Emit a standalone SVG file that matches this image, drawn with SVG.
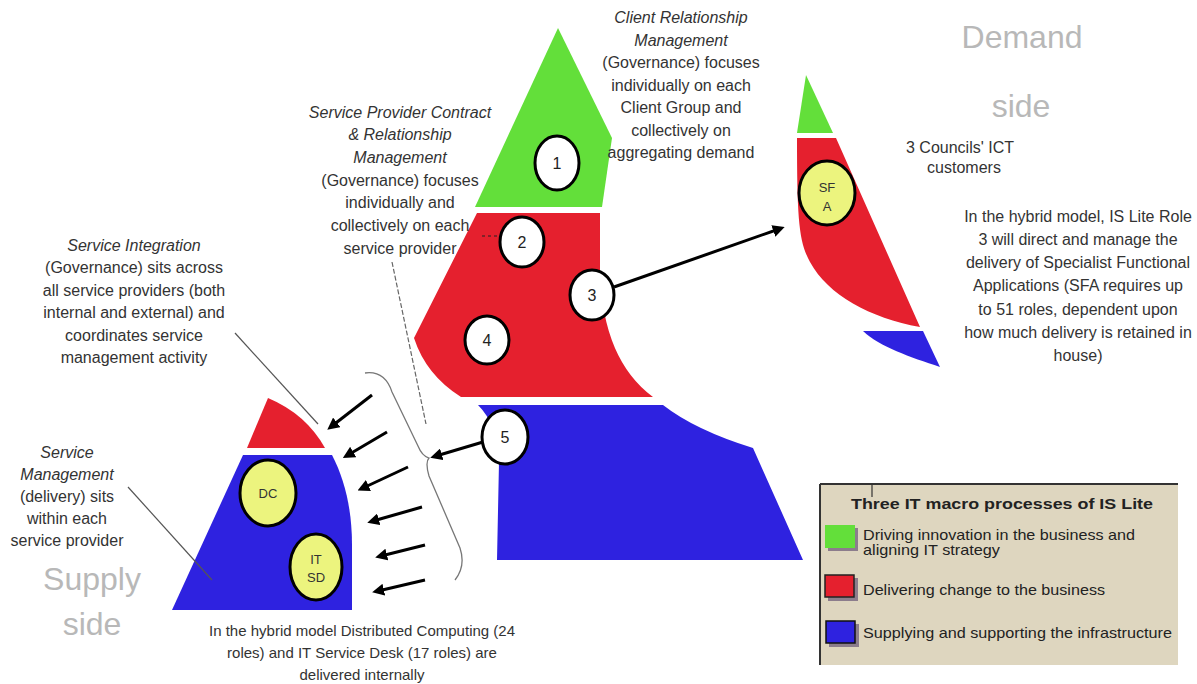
<svg xmlns="http://www.w3.org/2000/svg" width="1197" height="684" viewBox="0 0 1197 684">
<defs>
<marker id="ah" viewBox="0 0 10 10" refX="5" refY="5" markerWidth="4" markerHeight="4" orient="auto" markerUnits="strokeWidth">
<path d="M0,0 L10,5 L0,10 Z" fill="#000"/>
</marker>
</defs>
<style>
.g{fill:#63df3a}.r{fill:#e5202e}.b{fill:#2e22e0}
.num{fill:#fff;stroke:#000;stroke-width:3}
.yl{fill:#ecf47e;stroke:#000;stroke-width:3}
.t{font-family:"Liberation Sans",Arial,sans-serif;font-size:16px;fill:#333;text-anchor:middle}
.i{font-style:italic}
.big{font-family:"Liberation Sans",Arial,sans-serif;font-size:32px;fill:#b8b8b8;text-anchor:middle}
.n{font-family:"Liberation Sans",Arial,sans-serif;font-size:16px;fill:#222;text-anchor:middle}
.s{font-family:"Liberation Sans",Arial,sans-serif;font-size:13px;fill:#333;text-anchor:middle}
.arr{stroke:#000;stroke-width:3;fill:none;marker-end:url(#ah)}
.thin{stroke:#555;stroke-width:1.2;fill:none}
.lg{font-family:"Liberation Sans",Arial,sans-serif;font-size:15px;fill:#222}
</style>
<rect width="1197" height="684" fill="#fff"/>

<g id="main-shape">
<path class="g" d="M558,28 L612,138 L602,207 L475,207 Z"/>
<path class="r" d="M477,213 L600,213 L600,273 Q603,360 653,397 L461,397 Q426,375 414,338 Z"/>
<path class="b" d="M478,405 L663,405 Q695,430 753,448 L803,560 L497,560 L499,462 Q498,425 478,405 Z"/>
</g>

<g id="demand-shape">
<path class="g" d="M806,75 L833,133 L797,133 Z"/>
<path class="r" d="M797,138 L836,138 L920,327 C870,318 828,295 810,262 C799,242 797,220 797,138 Z"/>
<path class="b" d="M863,331 L923,331 L940,367 C910,357 880,347 863,331 Z"/>
</g>

<g id="supply-shape">
<path class="r" d="M247,448 L268,398 Q306,414 325,448 Z"/>
<path class="b" d="M243,455 L332,455 C345,480 352,510 352,545 L352,610 L172,610 Z"/>
</g>

<g id="node-1"><ellipse class="num" cx="557" cy="163" rx="22" ry="27"/><text class="n" x="557" y="169">1</text></g>
<g id="node-2"><ellipse class="num" cx="522" cy="242" rx="22" ry="25"/><text class="n" x="522" y="248">2</text></g>
<g id="node-3"><ellipse class="num" cx="592" cy="295" rx="22" ry="25"/><text class="n" x="592" y="301">3</text></g>
<g id="node-4"><ellipse class="num" cx="487" cy="340" rx="22" ry="24"/><text class="n" x="487" y="346">4</text></g>
<g id="node-5"><ellipse class="num" cx="505" cy="437" rx="23" ry="27"/><text class="n" x="505" y="443">5</text></g>
<g id="node-sfa"><ellipse class="yl" cx="827" cy="193" rx="28" ry="32"/><text class="s" x="827" y="192">SF</text><text class="s" x="827" y="211">A</text></g>
<g id="node-dc"><ellipse class="yl" cx="268" cy="493" rx="28" ry="33"/><text class="s" x="268" y="498">DC</text></g>
<g id="node-itsd"><ellipse class="yl" cx="316" cy="567" rx="26" ry="33"/><text class="s" x="316" y="564">IT</text><text class="s" x="316" y="582">SD</text></g>

<g id="connectors">
<line class="arr" x1="614" y1="287" x2="779" y2="229"/>
<line class="arr" x1="483" y1="442" x2="436" y2="456"/>
<line class="arr" x1="372" y1="395" x2="332" y2="426"/>
<line class="arr" x1="387" y1="432" x2="348" y2="455"/>
<line class="arr" x1="408" y1="467" x2="363" y2="488"/>
<line class="arr" x1="422" y1="507" x2="373" y2="521"/>
<line class="arr" x1="425" y1="545" x2="381" y2="556"/>
<line class="arr" x1="425" y1="580" x2="378" y2="591"/>
<path d="M365,373 C380,371 388,380 392,392 L418,446 Q422,456 429,458 Q425,462 429,476 L460,548 Q466,566 455,580" stroke="#777" stroke-width="1.3" fill="none"/>
<line x1="392" y1="262" x2="426" y2="424" stroke="#666" stroke-width="1.2" stroke-dasharray="5,2"/>
<line x1="482" y1="236" x2="499" y2="236" stroke="#222" stroke-width="1.2" stroke-dasharray="3,3"/>
<line class="thin" x1="235" y1="333" x2="318" y2="424"/>
<line class="thin" x1="128" y1="487" x2="212" y2="580"/>
</g>

<g id="label-client">
<text class="t i" x="681" y="23">Client Relationship</text>
<text class="t i" x="681" y="45.5">Management</text>
<text class="t" x="681" y="68">(Governance) focuses</text>
<text class="t" x="681" y="90.5">individually on each</text>
<text class="t" x="681" y="113">Client Group and</text>
<text class="t" x="681" y="135.5">collectively on</text>
<text class="t" x="681" y="158">aggregating demand</text>
</g>

<g id="label-provider">
<text class="t i" x="400" y="117.5">Service Provider Contract</text>
<text class="t i" x="400" y="140">&amp; Relationship</text>
<text class="t i" x="400" y="163">Management</text>
<text class="t" x="400" y="185.5">(Governance) focuses</text>
<text class="t" x="400" y="208">individually and</text>
<text class="t" x="400" y="231">collectively on each</text>
<text class="t" x="400" y="253.5">service provider</text>
</g>

<g id="label-integration">
<text class="t i" x="134" y="250.5">Service Integration</text>
<text class="t" x="134" y="273">(Governance) sits across</text>
<text class="t" x="134" y="295.5">all service providers (both</text>
<text class="t" x="134" y="318">internal and external) and</text>
<text class="t" x="134" y="340.5">coordinates service</text>
<text class="t" x="134" y="363">management activity</text>
</g>

<g id="label-management">
<text class="t i" x="67" y="457.5">Service</text>
<text class="t i" x="67" y="479.5">Management</text>
<text class="t" x="67" y="501.5">(delivery) sits</text>
<text class="t" x="67" y="523.5">within each</text>
<text class="t" x="67" y="545.5">service provider</text>
</g>

<g id="label-supply">
<text class="big" x="92" y="590">Supply</text>
<text class="big" x="92" y="635">side</text>
</g>

<g id="label-demand">
<text class="big" x="1022" y="48">Demand</text>
<text class="big" x="1021" y="117">side</text>
</g>

<g id="label-councils">
<text class="t" x="960" y="152.5">3 Councils' ICT</text>
<text class="t" x="964" y="172.5">customers</text>
</g>

<g id="label-sfa">
<text class="t" x="1078" y="221.5">In the hybrid model, IS Lite Role</text>
<text class="t" x="1078" y="244.8">3 will direct and manage the</text>
<text class="t" x="1078" y="268.1">delivery of Specialist Functional</text>
<text class="t" x="1078" y="291.4">Applications (SFA requires up</text>
<text class="t" x="1078" y="314.7">to 51 roles, dependent upon</text>
<text class="t" x="1078" y="338">how much delivery is retained in</text>
<text class="t" x="1078" y="361.3">house)</text>
</g>

<g id="label-bottom">
<text class="t" x="362" y="636" style="font-size:15px">In the hybrid model Distributed Computing (24</text>
<text class="t" x="362" y="658" style="font-size:15px">roles) and IT Service Desk (17 roles) are</text>
<text class="t" x="362" y="680" style="font-size:15px">delivered internally</text>
</g>

<g id="legend">
<rect x="820" y="484" width="358" height="181" fill="#ded6bf"/>
<line x1="820" y1="484" x2="1178" y2="484" stroke="#333" stroke-width="2"/>
<line x1="820" y1="484" x2="820" y2="665" stroke="#333" stroke-width="2"/>
<line x1="872" y1="484" x2="872" y2="497" stroke="#333" stroke-width="1.2"/>
<text class="lg" x="1002" y="509" text-anchor="middle" font-weight="bold" font-size="17.5" textLength="302" lengthAdjust="spacingAndGlyphs">Three IT macro processes of IS Lite</text>
<rect x="828" y="528" width="30" height="23" fill="#8c7d8c"/>
<rect x="825" y="525" width="30" height="23" class="g"/>
<text class="lg" x="863" y="540" textLength="272" lengthAdjust="spacingAndGlyphs">Driving innovation in the business and</text>
<text class="lg" x="863" y="555" textLength="137" lengthAdjust="spacingAndGlyphs">aligning IT strategy</text>
<rect x="828" y="578" width="30" height="23" fill="#8c7d8c"/>
<rect x="825" y="575" width="29" height="22" class="r" stroke="#222" stroke-width="1.5"/>
<text class="lg" x="863" y="595" textLength="242" lengthAdjust="spacingAndGlyphs">Delivering change to the business</text>
<rect x="829" y="624" width="30" height="23" fill="#8c7d8c"/>
<rect x="826" y="621" width="29" height="22" class="b" stroke="#111" stroke-width="1.5"/>
<text class="lg" x="863" y="638" textLength="309" lengthAdjust="spacingAndGlyphs">Supplying and supporting the infrastructure</text>
</g>
</svg>
